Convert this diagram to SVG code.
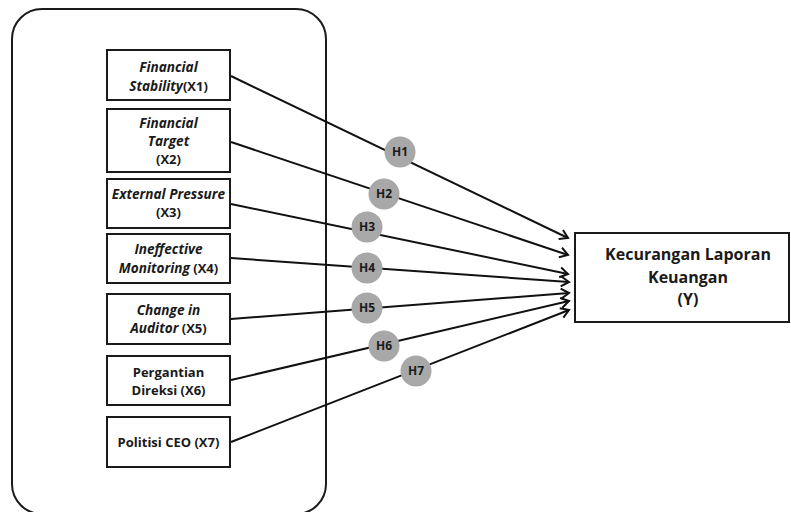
<svg xmlns="http://www.w3.org/2000/svg" width="791" height="512" viewBox="0 0 791 512">
<style>
.box{fill:#fff;stroke:#1a1a1a;stroke-width:2}
.t{font-family:"Open Sans","Liberation Sans",sans-serif;font-weight:bold;font-size:13px;fill:#1a1a1a;text-anchor:middle}
.i{font-style:italic;font-size:13.6px}
.ty{font-family:"Open Sans","Liberation Sans",sans-serif;font-weight:bold;font-size:16px;fill:#1a1a1a;text-anchor:middle}
.c{fill:#a8a8a8}
.ht{font-family:"Open Sans","Liberation Sans",sans-serif;font-weight:bold;font-size:12px;fill:#1a1a1a;text-anchor:middle}
.ln{stroke:#111;stroke-width:2;fill:none;marker-end:url(#arr)}
</style>
<defs>
<marker id="arr" markerUnits="userSpaceOnUse" markerWidth="14" markerHeight="14" viewBox="0 0 14 14" refX="11" refY="7" orient="auto">
<path d="M3,2 L11,7 L3,12" fill="none" stroke="#111" stroke-width="2"/>
</marker>
</defs>
<rect width="791" height="512" fill="#fff"/>
<g id="container">
<rect x="12" y="9" width="314" height="505" rx="30" ry="30" fill="none" stroke="#1a1a1a" stroke-width="2"/>
</g>
<g id="connectors">
<line class="ln" x1="231" y1="76" x2="568" y2="238"/>
<line class="ln" x1="231" y1="142" x2="568" y2="255"/>
<line class="ln" x1="231" y1="204" x2="568" y2="274"/>
<line class="ln" x1="231" y1="258" x2="569" y2="282"/>
<line class="ln" x1="231" y1="319" x2="569" y2="293"/>
<line class="ln" x1="231" y1="380" x2="569" y2="301"/>
<line class="ln" x1="231" y1="442" x2="569" y2="310"/>
</g>
<g id="x1">
<rect class="box" x="107" y="50" width="123" height="50"/>
<text class="t i" x="168.5" y="72">Financial</text>
<text class="t" x="168.5" y="91"><tspan class="i">Stability</tspan>(X1)</text>
</g>
<g id="x2">
<rect class="box" x="107" y="109" width="123" height="63"/>
<text class="t i" x="168.5" y="128">Financial</text>
<text class="t i" x="168.5" y="146">Target</text>
<text class="t" x="168.5" y="164">(X2)</text>
</g>
<g id="x3">
<rect class="box" x="107" y="179" width="123" height="49"/>
<text class="t i" x="168.5" y="199">External Pressure</text>
<text class="t" x="168.5" y="217">(X3)</text>
</g>
<g id="x4">
<rect class="box" x="107" y="234" width="123" height="49"/>
<text class="t i" x="168.5" y="254">Ineffective</text>
<text class="t" x="168.5" y="273"><tspan class="i">Monitoring</tspan> (X4)</text>
</g>
<g id="x5">
<rect class="box" x="107" y="294" width="123" height="50"/>
<text class="t i" x="168.5" y="315">Change in</text>
<text class="t" x="168.5" y="333"><tspan class="i">Auditor</tspan> (X5)</text>
</g>
<g id="x6">
<rect class="box" x="107" y="356" width="123" height="49"/>
<text class="t" x="168.5" y="377">Pergantian</text>
<text class="t" x="168.5" y="395">Direksi (X6)</text>
</g>
<g id="x7">
<rect class="box" x="107" y="417" width="123" height="50"/>
<text class="t" x="168.5" y="447">Politisi CEO (X7)</text>
</g>
<g id="y">
<rect class="box" x="575" y="233" width="214" height="89"/>
<text class="ty" x="688" y="260">Kecurangan Laporan</text>
<text class="ty" x="688" y="283">Keuangan</text>
<text class="ty" x="688" y="305">(Y)</text>
</g>
<g id="h1"><circle class="c" cx="400" cy="152" r="15.5"/><text class="ht" x="400" y="156">H1</text></g>
<g id="h2"><circle class="c" cx="384" cy="194" r="15.5"/><text class="ht" x="384" y="198">H2</text></g>
<g id="h3"><circle class="c" cx="367" cy="227" r="15.5"/><text class="ht" x="367" y="231">H3</text></g>
<g id="h4"><circle class="c" cx="367" cy="268" r="15.5"/><text class="ht" x="367" y="272">H4</text></g>
<g id="h5"><circle class="c" cx="367" cy="308" r="15.5"/><text class="ht" x="367" y="312">H5</text></g>
<g id="h6"><circle class="c" cx="384" cy="346" r="15.5"/><text class="ht" x="384" y="350">H6</text></g>
<g id="h7"><circle class="c" cx="416" cy="371" r="15.5"/><text class="ht" x="416" y="375">H7</text></g>
</svg>
